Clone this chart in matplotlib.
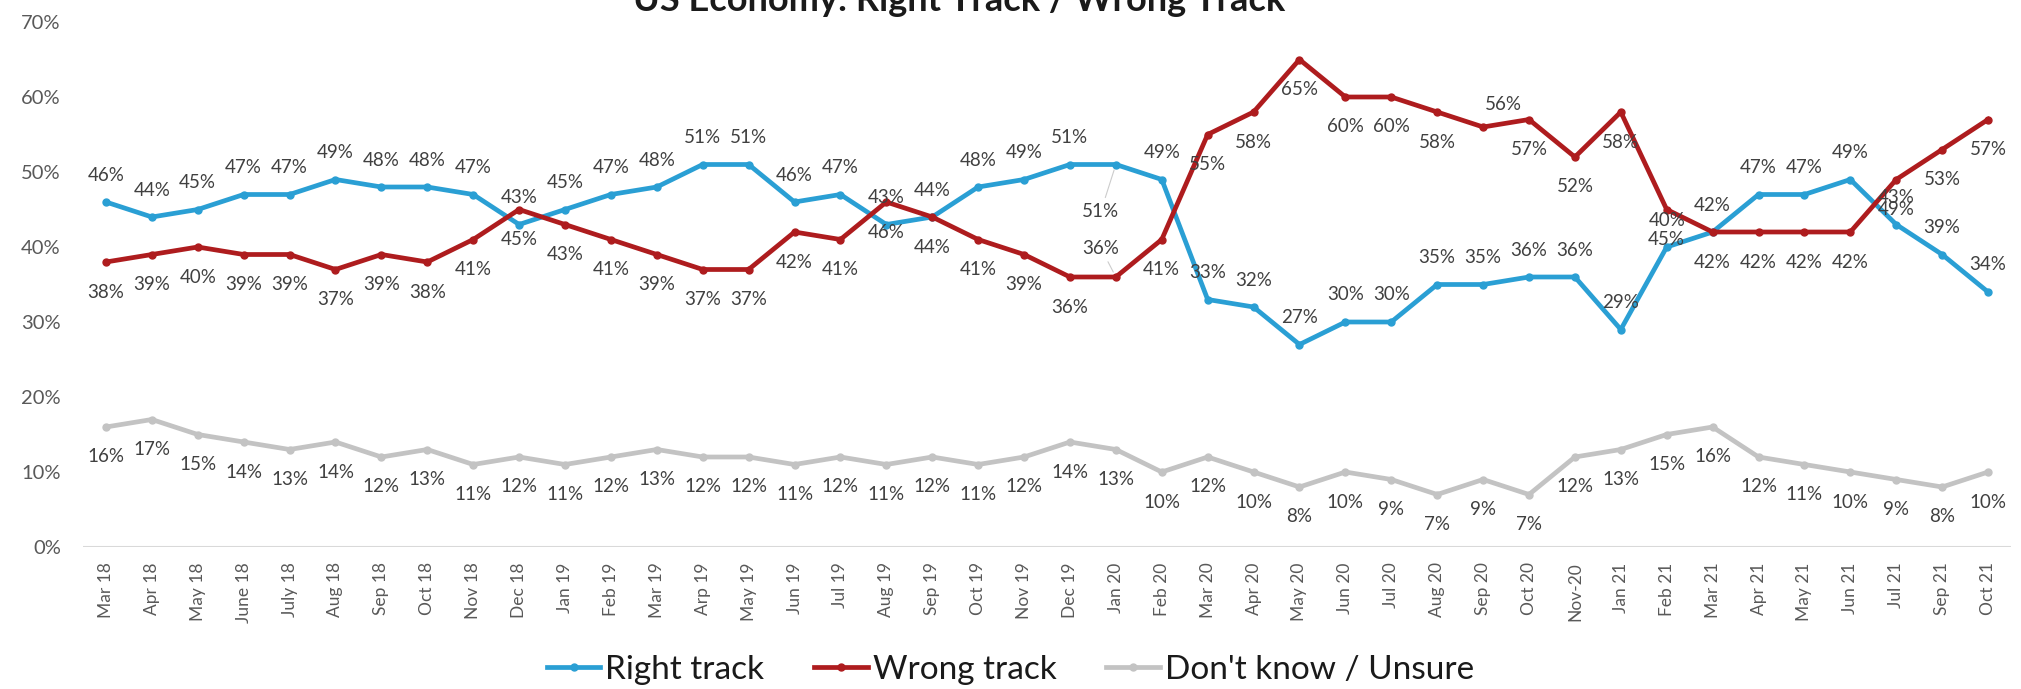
import numpy as np
import matplotlib.pyplot as plt
from matplotlib.ticker import PercentFormatter

months = ["Mar 18", "Apr 18", "May 18", "June 18", "July 18", "Aug 18", "Sep 18", "Oct 18",
          "Nov 18", "Dec 18", "Jan 19", "Feb 19", "Mar 19", "Arp 19", "May 19", "Jun 19",
          "Jul 19", "Aug 19", "Sep 19", "Oct 19", "Nov 19", "Dec 19", "Jan 20", "Feb 20",
          "Mar 20", "Apr 20", "May 20", "Jun 20", "Jul 20", "Aug 20", "Sep 20", "Oct 20",
          "Nov-20", "Jan 21", "Feb 21", "Mar 21", "Apr 21", "May 21", "Jun 21", "Jul 21",
          "Sep 21", "Oct 21"]

right_track = [46, 44, 45, 47, 47, 49, 48, 48, 47, 43, 45, 47, 48, 51, 51, 46, 47, 43, 44, 48, 49,
               51, 51, 49, 33, 32, 27, 30, 30, 35, 35, 36, 36, 29, 40, 42, 47, 47, 49, 43, 39, 34]
wrong_track = [38, 39, 40, 39, 39, 37, 39, 38, 41, 45, 43, 41, 39, 37, 37, 42, 41, 46, 44, 41, 39,
               36, 36, 41, 55, 58, 65, 60, 60, 58, 56, 57, 52, 58, 45, 42, 42, 42, 42, 49, 53, 57]
unsure = [16, 17, 15, 14, 13, 14, 12, 13, 11, 12, 11, 12, 13, 12, 12, 11, 12, 11, 12, 11, 12,
          14, 13, 10, 12, 10, 8, 10, 9, 7, 9, 7, 12, 13, 15, 16, 12, 11, 10, 9, 8, 10]

plt.rcParams['font.family'] = ['Lato', 'DejaVu Sans']

W, H = 2021, 689
fig = plt.figure(figsize=(W / 100, H / 100), dpi=100)
ax = fig.add_axes([83 / W, 1 - 547 / H, (2011 - 83) / W, 525 / H])

blue, red, grey = '#2A9FD4', '#AE1C1E', '#C3C3C3'
label_color = '#404040'
x = np.arange(len(months))

# series: values, colour, legend name, default label offset in pixels (dx, dy)
series = [
    (right_track, blue, 'Right track', (0, 27)),
    (wrong_track, red, 'Wrong track', (0, -30)),
    (unsure, grey, "Don't know / Unsure", (0, -30)),
]

# a few labels that sit somewhere else in the original
special = {
    ('Right track', 22): (-15, -47),
    ('Wrong track', 22): (-15, 29),
    ('Wrong track', 30): (20, 22),
}
leaders = {('Right track', 22), ('Wrong track', 22)}

handles = []
for vals, col, name, (dx, dy) in series:
    y = np.array(vals) / 100
    h, = ax.plot(x, y, color=col, lw=3.4, marker='o', ms=5, label=name, zorder=3)
    handles.append(h)
    for i, v in enumerate(vals):
        ox, oy = special.get((name, i), (dx, dy))
        kw = {}
        if (name, i) in leaders:
            kw['arrowprops'] = dict(arrowstyle='-', color='#CCCCCC', lw=0.8, shrinkA=2, shrinkB=4)
        ax.annotate(f"{v}%", (i, v / 100), xytext=(ox * 0.72, oy * 0.72),
                    textcoords='offset points', ha='center', va='center',
                    fontsize=13.5, color=label_color, zorder=4, **kw)

ax.set_xlim(-0.5, len(months) - 0.5)
ax.set_ylim(0, 0.7)
ax.set_yticks(np.arange(0, 0.71, 0.1))
ax.yaxis.set_major_formatter(PercentFormatter(1.0, decimals=0))
ax.set_xticks(x)
ax.set_xticklabels(months, rotation=90, fontsize=12.5, color='#595959')
ax.tick_params(axis='x', length=0, pad=11)
ax.tick_params(axis='y', length=0, pad=16, labelsize=14.5, labelcolor='#595959')
for s in ax.spines.values():
    s.set_visible(False)
ax.axhline(0, color='#D9D9D9', lw=1.5, zorder=1)

# the title is cut off at the top edge in the original
fig.text(959 / W, 1 - 11 / H, "US Economy: Right Track / Wrong Track", ha='center',
         va='baseline', fontsize=26, fontweight='bold', color='#1A1A1A')

fig.legend(handles=handles, loc='center', bbox_to_anchor=(0.5, 1 - 670 / H), ncol=3,
           frameon=False, fontsize=24, handlelength=1.6, handletextpad=0.15,
           columnspacing=1.5, labelcolor='#1A1A1A')

fig.savefig('out.png', dpi=100)
